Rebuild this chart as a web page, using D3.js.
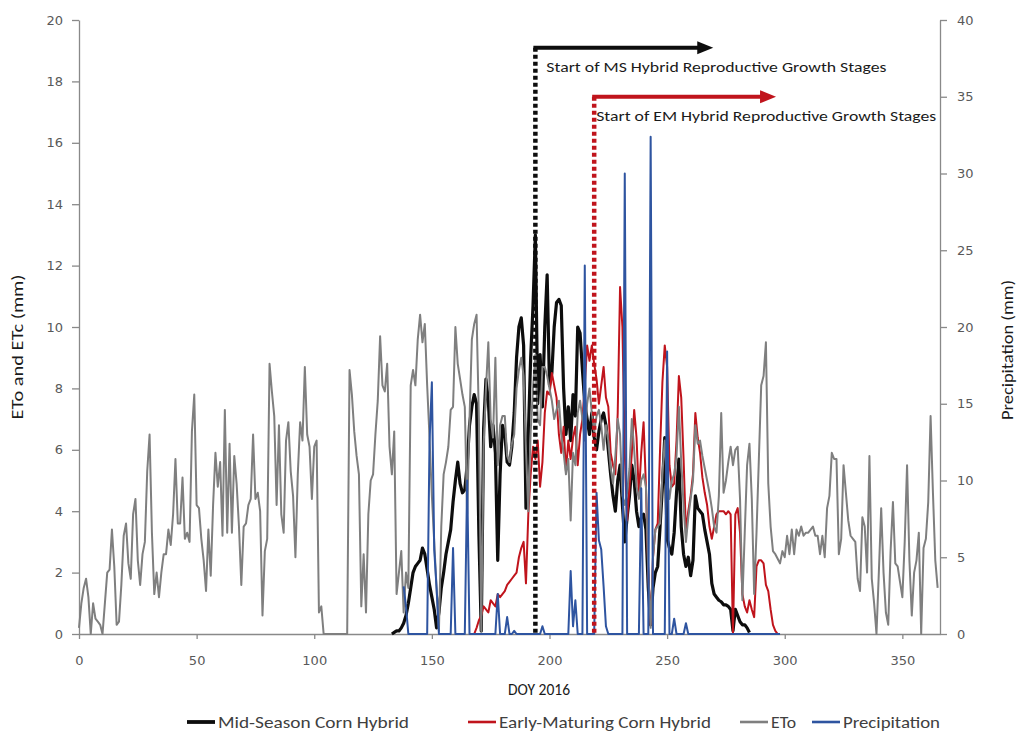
<!DOCTYPE html>
<html><head><meta charset="utf-8">
<script src="https://cdn.jsdelivr.net/npm/d3@7/dist/d3.min.js"></script>
<style>body{margin:0;background:#fff}</style></head>
<body><svg id="chart" width="1017" height="734"></svg>
<script>
// ---------- DATA ----------
const etoStartDay = 0;
const etoValues = [
0.2,1.0,1.5,1.8,1.2,0.0,1.0,0.5,0.4,0.3,
0.0,1.0,2.0,2.1,3.4,2.2,0.3,0.4,1.6,3.2,
3.6,2.3,1.8,3.9,4.4,2.4,1.6,2.6,3.0,5.3,
6.5,3.3,1.3,2.0,1.2,2.0,2.6,2.6,3.4,2.9,
3.9,5.7,3.6,3.6,5.1,3.1,3.3,3.0,6.6,7.8,
4.2,4.1,3.1,2.4,1.4,3.4,1.9,4.2,5.9,4.8,
5.6,3.2,7.3,3.3,6.2,3.3,5.8,4.9,3.5,1.6,
3.5,3.6,4.2,4.4,6.5,4.4,4.6,4.0,0.6,2.7,
3.1,8.8,7.9,7.1,4.2,6.8,3.9,3.3,6.3,6.9,
5.3,4.5,2.5,5.2,6.9,6.3,8.7,6.5,6.1,4.4,
6.1,6.3,0.7,0.9,0,0,0,0,0,0,
0,0,0,0,0,8.6,7.8,6.6,5.8,5.2,
0.9,2.6,0.7,3.9,5.0,5.2,6.5,7.6,9.7,8.1,
7.9,8.8,6.1,5.2,6.6,1.3,2.0,2.7,0.7,2.0,
1.5,8.1,8.6,8.1,9.6,10.4,9.5,10.1,8.1,6.4,
4.5,3.0,1.5,0.1,3.5,5.2,5.6,6.1,7.3,7.4,
10.0,8.8,8.3,7.8,7.4,3.9,7.0,9.6,10.1,10.4,
7.0,0.1,6.1,8.0,9.5,7.0,6.4,9.0,5.5,6.8,
7.1,7.1,5.8,5.6,6.2,6.5,8.0,8.6,9.0,8.4,
6.0,4.0,6.6,8.0,9.1,7.0,6.8,8.7,8.7,8.4,
8.0,7.6,7.0,7.3,7.6,6.5,5.9,5.2,5.7,3.7,
5.9,5.5,7.2,7.6,7.0,6.3,7.5,8.0,7.2,6.6,
7.1,7.3,6.8,6.0,6.8,6.3,5.4,4.9,5.8,7.0,
6.5,4.5,4.2,4.6,5.4,7.0,6.0,4.8,4.4,5.0,
5.2,4.8,2.0,0.2,2.5,3.4,3.5,3.6,5.2,6.3,
5.0,4.4,5.0,5.2,5.8,7.4,5.6,4.2,3.0,3.8,
4.4,5.0,6.8,6.2,6.3,5.8,5.4,5.0,4.6,4.1,
3.5,3.3,4.5,7.2,4.6,5.0,5.6,6.1,5.5,6.0,
6.1,4.4,1.1,3.3,5.5,6.2,4.4,1.3,3.3,5.7,
8.1,8.4,9.5,4.9,3.5,2.7,2.6,2.45,2.3,2.7,
2.5,3.2,2.6,3.4,2.6,3.4,3.2,3.5,3.2,3.3,
3.3,3.4,3.5,3.2,3.2,2.6,3.2,2.5,4.1,4.5,
5.9,5.7,5.7,2.6,3.1,5.5,4.6,3.7,3.2,3.1,
3.0,1.8,1.4,3.8,3.5,2.0,5.8,1.8,1.0,0.0,
2.0,4.1,2.0,0.7,0.3,2.7,4.3,2.3,2.2,1.7,
1.2,3.0,5.5,2.4,0.6,2.0,2.4,3.3,0.0,2.8,
3.1,4.3,7.1,4.6,2.4,1.5
];

const midSeasonStartDay = 133;
const midSeasonValues = [
0.0,0.05,0.1,0.1,0.2,0.35,0.6,
1.0,1.5,2.0,2.2,2.3,2.4,2.8,2.6,2.1,1.6,
1.2,0.8,0.2,0.7,1.5,2.0,2.6,3.0,3.4,4.3,
5.0,5.6,4.9,4.6,4.7,5.5,6.8,7.4,7.8,7.5,
3.2,0.1,6.7,8.3,7.6,6.1,6.8,5.9,2.4,5.2,
6.8,6.5,5.6,5.5,6.1,7.2,9.0,10.0,10.3,9.4,
4.1,6.5,9.0,10.7,13.0,7.5,9.1,7.4,10.0,11.7,
8.1,8.5,10.0,10.8,10.9,10.7,8.0,6.5,7.4,6.3,
7.8,7.1,10.0,9.8,8.6,7.5,7.0,6.5,7.2,6.4,
6.0,6.6,7.0,7.2,6.8,6.0,5.2,4.5,4.0,5.0,
5.5,4.2,3.0,3.8,4.5,5.5,5.0,4.0,3.5,3.8,
3.9,3.4,1.5,0.3,1.5,2.0,2.2,3.5,4.8,6.4,
3.1,2.8,2.6,3.3,4.6,5.7,3.5,2.6,2.2,2.5,
1.9,2.4,4.5,4.1,4.0,3.9,3.4,3.0,2.6,1.65,
1.3,1.2,1.1,1.05,0.95,0.95,0.9,0.8,0.1,0.8,
0.6,0.4,0.3,0.3,0.2,0.05
];

const earlyMaturingStartDay = 168;
const earlyMaturingValues = [
0.0,0.2,
0.45,0.6,0.9,0.8,0.7,1.1,1.0,0.9,1.3,1.2,
1.3,1.4,1.6,1.7,1.8,1.9,2.0,2.5,2.8,3.0,
1.65,3.9,5.2,6.1,5.7,6.3,4.8,5.6,7.2,7.9,
7.8,8.5,8.1,7.7,6.5,5.9,6.75,5.3,6.3,5.7,
6.4,6.75,5.5,6.5,7.0,8.1,9.4,8.9,9.4,8.8,
8.3,7.5,8.1,8.7,7.7,7.4,5.9,5.5,5.2,7.2,
11.3,10.0,5.9,3.7,4.8,5.9,7.3,6.4,4.5,5.9,
6.9,4.8,2.0,0.3,2.5,3.4,3.6,6.0,8.2,9.4,
8.7,5.5,4.8,4.9,6.3,8.4,7.7,5.7,3.3,4.0,
4.5,5.2,7.2,6.4,5.9,5.1,4.6,4.2,3.5,3.1,
3.5,3.9,4.0,4.0,4.0,3.9,4.0,3.9,0.0,3.9,
4.1,3.3,1.3,0.9,0.7,1.1,0.8,0.55,2.2,2.4,
2.4,2.3,1.6,1.4,0.8,0.3,0.1,0.0
];

const precipStartDay = 138;
const precipValues = [
3.1,1.8,
0,0,0,0,0,0,0,0,0,
12.5,16.4,5.5,3.0,
0,0,0,0,0,0,
5.6,
0,0,0,0,0,
10.0,
0,0,0,0,0,0,0,0,0,0,0,0,
2.6,
0,0,0,
1.1,
0,0,
0.2,
0,0,0,0,0,0,0,0,0,0,0,
0.5,
0,0,0,0,0,0,0,0,0,0,0,
4.1,0.5,2.2,
0,0,0,
24.0,
0,0,0,0,
9.2,6.1,5.5,3.1,0.5,
0,0,0,0,0,0,0,
30.0,
0,0,0,0,0,0,
9.5,
0,0,0,
32.4,
0,0,0,0,0,0,
18.4,
0,0,
1.0,
0,0,0,0,
0.7,
0,0,0,0,0,0,0,0,0,0,0,0,0,0,0,0,0,0,0,0,
0,0,0,0,0,0,0,0,0,0,0,0,0,0,0,0,0,0,0,0
];

const xTicks = [0,50,100,150,200,250,300,350];
const leftTicks = [0,2,4,6,8,10,12,14,16,18,20];
const rightTicks = [0,5,10,15,20,25,30,35,40];
const seriesNames = ["Mid-Season Corn Hybrid","Early-Maturing Corn Hybrid","ETo","Precipitation"];
const seriesColors = ["#0d0d0d","#c0141c","#7f7f7f","#2e54a0"];
const stageStartDays = [194, 219];
const stageArrowEndDays = [269.6, 296.3];
const stageLevels = [19.1, 17.5];
const stageLabels = ["Start of MS Hybrid Reproductive Growth Stages","Start of EM Hybrid Reproductive Growth Stages"];
const stageColors = ["#0d0d0d","#c0141c"];

// ---------- CHART ----------
const svg = d3.select("#chart");
const x = d3.scaleLinear().domain([0,366]).range([79,940]);
const yL = d3.scaleLinear().domain([0,20]).range([634,20]);
const yR = d3.scaleLinear().domain([0,40]).range([634,20]);

const toPts = (start, vals) => vals.map((v,i)=>({d:start+i, v:v}));
const eto = toPts(etoStartDay, etoValues);
const ms = toPts(midSeasonStartDay, midSeasonValues);
const em = toPts(earlyMaturingStartDay, earlyMaturingValues);
const pr = toPts(precipStartDay, precipValues);

const tickFont = "'DejaVu Sans', Verdana, sans-serif";
const titleFont = "Carlito, 'Liberation Sans Narrow', Lato, sans-serif";

function styleAxis(g){
  g.select(".domain").attr("stroke","#898989").attr("stroke-width",1.3);
  g.selectAll(".tick line").attr("stroke","#898989").attr("stroke-width",1.3);
  g.selectAll(".tick text").attr("fill","#595959").style("font-family",tickFont).style("font-size","13px");
}

svg.append("g").attr("transform","translate(79,0)")
  .call(d3.axisLeft(yL).tickValues(leftTicks).tickSize(7).tickSizeOuter(0).tickPadding(9).tickFormat(d3.format("d")))
  .call(styleAxis);
svg.append("g").attr("transform","translate(940,0)")
  .call(d3.axisRight(yR).tickValues(rightTicks).tickSize(7).tickSizeOuter(0).tickPadding(10).tickFormat(d3.format("d")))
  .call(styleAxis);
svg.append("g").attr("transform","translate(0,634)")
  .call(d3.axisBottom(x).tickValues(xTicks).tickSize(5).tickSizeOuter(0).tickPadding(17).tickFormat(d3.format("d")))
  .call(styleAxis);

const lineL = d3.line().x(p=>x(p.d)).y(p=>yL(p.v));
const lineR = d3.line().x(p=>x(p.d)).y(p=>yR(p.v));

svg.append("path").datum(ms).attr("d",lineL).attr("fill","none")
  .attr("stroke",seriesColors[0]).attr("stroke-width",3.2).attr("stroke-linejoin","round");
svg.append("path").datum(em).attr("d",lineL).attr("fill","none")
  .attr("stroke",seriesColors[1]).attr("stroke-width",2).attr("stroke-linejoin","round");
svg.append("path").datum(eto).attr("d",lineL).attr("fill","none")
  .attr("stroke",seriesColors[2]).attr("stroke-width",2).attr("stroke-linejoin","round");
svg.append("path").datum(pr).attr("d",lineR).attr("fill","none")
  .attr("stroke",seriesColors[3]).attr("stroke-width",2).attr("stroke-linejoin","round");

// stage markers
stageStartDays.forEach((sd,i)=>{
  const x0 = x(sd), yy = yL(stageLevels[i]), tip = x(stageArrowEndDays[i]);
  svg.append("line").attr("x1",x0).attr("x2",x0).attr("y1",yy).attr("y2",yL(0))
    .attr("stroke",stageColors[i]).attr("stroke-width",4.5).attr("stroke-dasharray","4,3");
  svg.append("line").attr("x1",x0-2).attr("x2",tip-14).attr("y1",yy).attr("y2",yy)
    .attr("stroke",stageColors[i]).attr("stroke-width",4);
  svg.append("path").attr("d",`M${tip-16},${yy-6.5}L${tip},${yy}L${tip-16},${yy+6.5}Z`).attr("fill",stageColors[i]);
  svg.append("text").attr("x",x0+(i===0?11:2)).attr("y",yy+24)
    .attr("textLength",340).attr("lengthAdjust","spacingAndGlyphs")
    .style("font-family",titleFont).style("font-size","15px").attr("fill","#1a1a1a")
    .text(stageLabels[i]);
});

// axis titles
svg.append("text").attr("transform","translate(23,347) rotate(-90)").attr("text-anchor","middle")
  .attr("textLength",145).attr("lengthAdjust","spacingAndGlyphs")
  .style("font-family",titleFont).style("font-size","16px").attr("fill","#1a1a1a").text("ETo and ETc (mm)");
svg.append("text").attr("transform","translate(1013,350) rotate(-90)").attr("text-anchor","middle")
  .attr("textLength",140).attr("lengthAdjust","spacingAndGlyphs")
  .style("font-family",titleFont).style("font-size","16px").attr("fill","#1a1a1a").text("Precipitation (mm)");
svg.append("text").attr("x",539).attr("y",695).attr("text-anchor","middle")
  .attr("textLength",62).attr("lengthAdjust","spacingAndGlyphs")
  .style("font-family",titleFont).style("font-size","16px").attr("fill","#1a1a1a").text("DOY 2016");

// legend
const legX = [187,468,740,812];
const legTextW = [191,212,25,97];
const legW = [3.2,2,2,2];
const lg = svg.append("g");
seriesNames.forEach((n,i)=>{
  lg.append("line").attr("x1",legX[i]).attr("x2",legX[i]+28).attr("y1",722).attr("y2",722)
    .attr("stroke",seriesColors[i]).attr("stroke-width",legW[i]+0.6);
  lg.append("text").attr("x",legX[i]+31).attr("y",727.5)
    .attr("textLength",legTextW[i]).attr("lengthAdjust","spacingAndGlyphs")
    .style("font-family",titleFont).style("font-size","16px").attr("fill","#404040").text(n);
});
</script></body></html>
